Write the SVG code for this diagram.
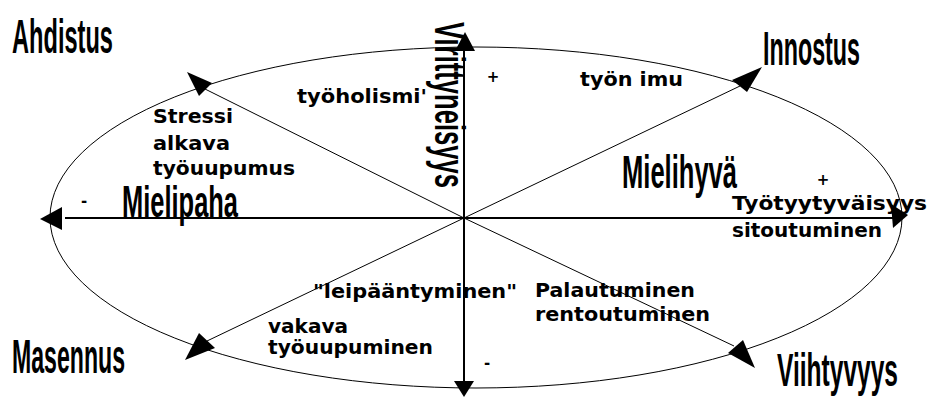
<svg xmlns="http://www.w3.org/2000/svg" width="929" height="398" viewBox="0 0 929 398">
<style>
.big{font-family:"Liberation Sans Narrow","Liberation Sans",sans-serif;font-weight:bold;fill:#000}
.sm{font-family:"DejaVu Sans","Liberation Sans",sans-serif;font-weight:bold;font-size:19px;fill:#000}
.sign{font-family:"DejaVu Sans","Liberation Sans",sans-serif;font-weight:bold;font-size:15px;fill:#000}
.thin{stroke:#000;stroke-width:1;fill:none}
.axis{stroke:#000;stroke-width:2;fill:none}
.ah{fill:#000;stroke:none}
</style>
<rect width="929" height="398" fill="#fff"/>
<g id="connectors">
<ellipse class="thin" cx="476" cy="217.5" rx="426" ry="170.5"/>
<line class="axis" x1="65" y1="218" x2="894" y2="218"/>
<line class="axis" x1="464" y1="50" x2="464" y2="382"/>
<line class="thin" x1="464" y1="218" x2="205" y2="89"/>
<line class="thin" x1="464" y1="218" x2="740" y2="86"/>
<line class="thin" x1="464" y1="218" x2="207" y2="341"/>
<line class="thin" x1="464" y1="218" x2="734" y2="346"/>
<polygon class="ah" points="40,219 62,207 62,230"/>
<polygon class="ah" points="908,215 891,204 893,228"/>
<polygon class="ah" points="465,32 455,51 475,51"/>
<polygon class="ah" points="454,381 474,381 464,397"/>
<polygon class="ah" points="187,72 212,83 199,96"/>
<polygon class="ah" points="762,67 732,80 747,92"/>
<polygon class="ah" points="185,360 199,333 215,348"/>
<polygon class="ah" points="755,368 728,353 743,340"/>
</g>
<g id="ahdistus"><text class="big" x="12" y="53" font-size="49" textLength="101" lengthAdjust="spacingAndGlyphs">Ahdistus</text></g>
<g id="innostus"><text class="big" x="763" y="65" font-size="48" textLength="97" lengthAdjust="spacingAndGlyphs">Innostus</text></g>
<g id="masennus"><text class="big" x="12" y="373" font-size="48" textLength="113" lengthAdjust="spacingAndGlyphs">Masennus</text></g>
<g id="viihtyvyys"><text class="big" x="777" y="386" font-size="46" textLength="121" lengthAdjust="spacingAndGlyphs">Viihtyvyys</text></g>
<g id="mielipaha"><text class="big" x="122" y="217" font-size="44" textLength="116" lengthAdjust="spacingAndGlyphs">Mielipaha</text>
<text class="sign" x="84" y="206" text-anchor="middle">-</text></g>
<g id="mielihyva"><text class="big" x="622" y="188" font-size="46" textLength="115" lengthAdjust="spacingAndGlyphs">Mielihyvä</text></g>
<g id="virittyneisyys"><text class="big" transform="translate(435,22) rotate(90)" x="0" y="0" font-size="42" textLength="166" lengthAdjust="spacingAndGlyphs">Virittyneisyys</text></g>
<g id="stressi">
<text class="sm" x="153" y="123" textLength="80" lengthAdjust="spacingAndGlyphs">Stressi</text>
<text class="sm" x="153" y="150" textLength="77" lengthAdjust="spacingAndGlyphs">alkava</text>
<text class="sm" x="153" y="175" textLength="142" lengthAdjust="spacingAndGlyphs">työuupumus</text>
</g>
<g id="tyoholismi"><text class="sm" x="297" y="103" textLength="130" lengthAdjust="spacingAndGlyphs">työholismi'</text></g>
<g id="tyonimu">
<text class="sign" x="493" y="82" text-anchor="middle">+</text>
<text class="sm" x="580" y="86" textLength="103" lengthAdjust="spacingAndGlyphs">työn imu</text>
</g>
<g id="tyytyvaisyys">
<text class="sign" x="823" y="185" text-anchor="middle">+</text>
<text class="sm" x="732" y="210" textLength="195" lengthAdjust="spacingAndGlyphs">Työtyytyväisyys</text>
<text class="sm" x="732" y="237" textLength="150" lengthAdjust="spacingAndGlyphs">sitoutuminen</text>
</g>
<g id="leipaantyminen"><text class="sm" x="313" y="298" textLength="204" lengthAdjust="spacingAndGlyphs">"leipääntyminen"</text></g>
<g id="palautuminen">
<text class="sm" x="535" y="297" textLength="160" lengthAdjust="spacingAndGlyphs">Palautuminen</text>
<text class="sm" x="535" y="321" textLength="175" lengthAdjust="spacingAndGlyphs">rentoutuminen</text>
</g>
<g id="vakava">
<text class="sm" x="268" y="333" textLength="80" lengthAdjust="spacingAndGlyphs">vakava</text>
<text class="sm" x="268" y="354" textLength="165" lengthAdjust="spacingAndGlyphs">työuupuminen</text>
<text class="sign" x="487" y="368" text-anchor="middle">-</text>
</g>
</svg>
